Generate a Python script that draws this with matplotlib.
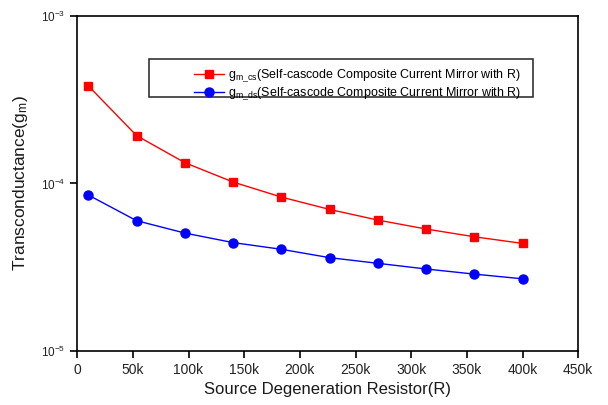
import numpy as np
import matplotlib
matplotlib.use('Agg')
from matplotlib import pyplot as plt
from matplotlib.patches import Rectangle

plt.rcParams['font.family'] = ['Liberation Sans', 'DejaVu Sans']
plt.rcParams['mathtext.fontset'] = 'custom'
plt.rcParams['mathtext.rm'] = 'Liberation Sans'
plt.rcParams['mathtext.it'] = 'Liberation Sans'

# data
resistor = [10e3, 53.3e3, 96.7e3, 140e3, 183.3e3, 226.7e3, 270e3, 313.3e3, 356.7e3, 400e3]
gm_cs = [3.82e-4, 1.93e-4, 1.33e-4, 1.02e-4, 8.3e-5, 7.0e-5, 6.05e-5, 5.35e-5, 4.81e-5, 4.39e-5]
gm_ds = [8.53e-5, 6.0e-5, 5.06e-5, 4.44e-5, 4.05e-5, 3.61e-5, 3.34e-5, 3.09e-5, 2.88e-5, 2.70e-5]
xticks = [0, 50e3, 100e3, 150e3, 200e3, 250e3, 300e3, 350e3, 400e3, 450e3]
xticklabels = ['0', '50k', '100k', '150k', '200k', '250k', '300k', '350k', '400k', '450k']
yticks = [1e-5, 1e-4, 1e-3]
yticklabels = ['10$^{-5}$', '10$^{-4}$', '10$^{-3}$']

fig = plt.figure(figsize=(6.08, 4.05), dpi=100)
ax = fig.add_axes([0.127, 0.133, 0.824, 0.828])

ax.plot(resistor, gm_cs, color='#ff0000', marker='s', markersize=6, lw=1,
        label='g$_{m\\_cs}$(Self-cascode Composite Current Mirror with R)')
ax.plot(resistor, gm_ds, color='#0000ff', marker='o', markersize=6.5, lw=1,
        label='g$_{m\\_ds}$(Self-cascode Composite Current Mirror with R)')

ax.set_yscale('log')
ax.set_xlim(0, 450e3)
ax.set_ylim(1e-5, 1e-3)
ax.set_xticks(xticks)
ax.set_xticklabels(xticklabels, fontsize=10, color='#222222')
ax.set_yticks(yticks)
ax.set_yticklabels(yticklabels, fontsize=8.5, color='#222222')
ax.minorticks_off()
ax.tick_params(direction='out', length=5, width=1.2)
for s in ax.spines.values():
    s.set_linewidth(1.2)

ax.set_xlabel('Source Degeneration Resistor(R)', fontsize=12, color='#1a1a1a', labelpad=4)
ax.set_ylabel('Transconductance(g$_m$)', fontsize=12.5, color='#1a1a1a', labelpad=8)

ax.add_patch(Rectangle((0.143, 0.759), 0.766, 0.113, transform=ax.transAxes,
                       fill=False, edgecolor='#333333', lw=1.2))
ax.legend(loc='upper left', bbox_to_anchor=(0.214, 0.875), frameon=False,
          fontsize=9, handlelength=2.4, handletextpad=0.25, labelspacing=0.1,
          borderpad=0.3)

plt.savefig('out.png', dpi=100)
